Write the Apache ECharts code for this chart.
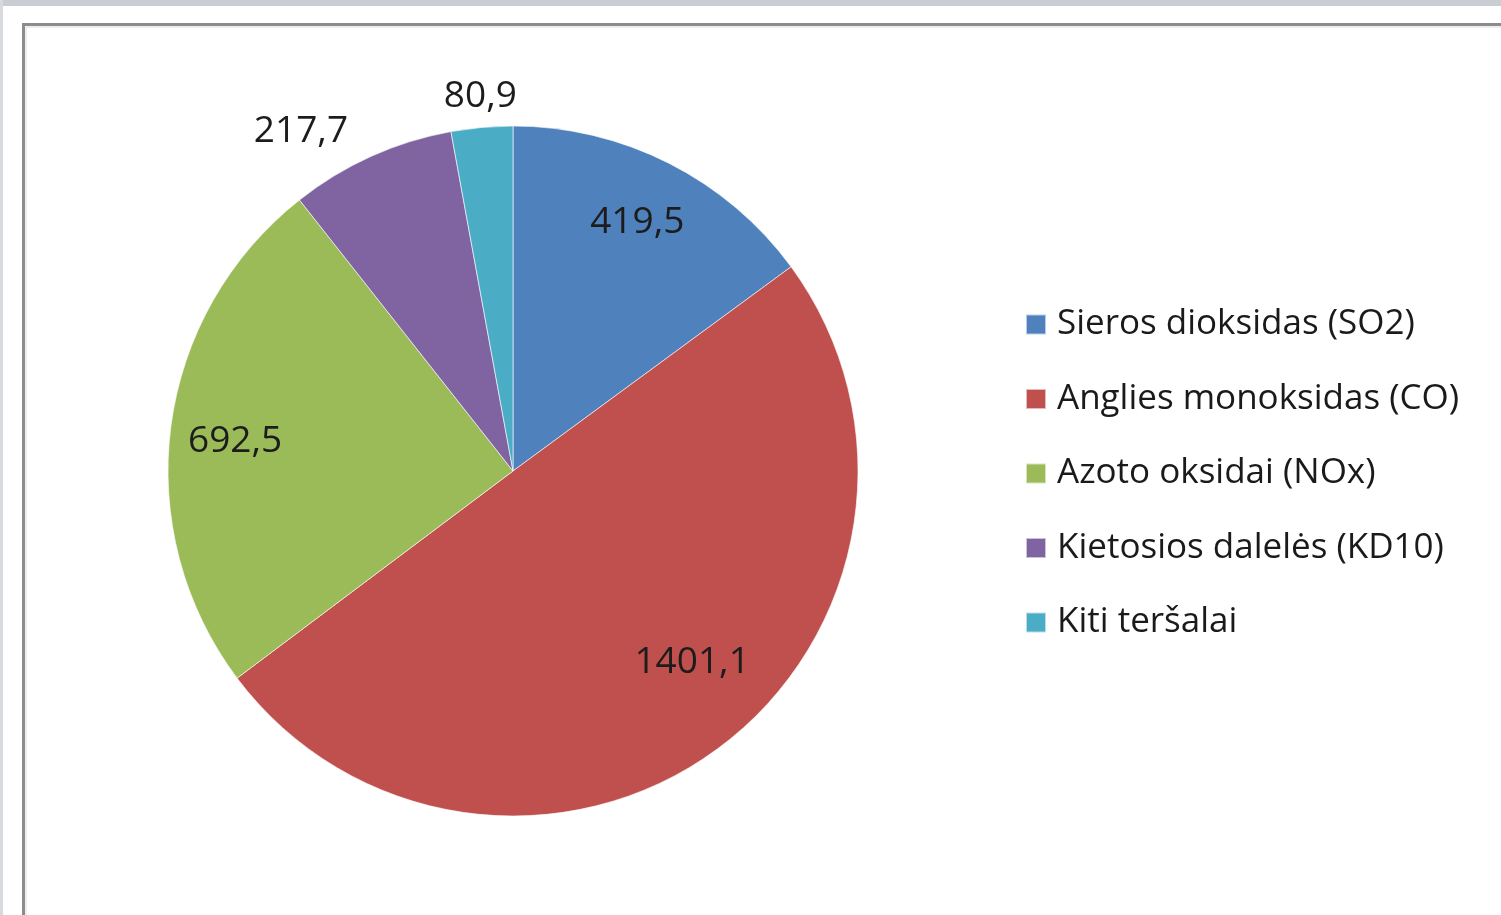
<!DOCTYPE html>
<html>
<head>
<meta charset="utf-8">
<script src="https://cdn.jsdelivr.net/npm/echarts@6/dist/echarts.min.js"></script>
<style>
  html, body { margin: 0; padding: 0; background: #ffffff; }
  #chart { width: 1501px; height: 915px; }
</style>
</head>
<body>
<div id="chart"></div>
<script>
// ---- data ----
const categories = [
  'Sieros dioksidas (SO2)',
  'Anglies monoksidas (CO)',
  'Azoto oksidai (NOx)',
  'Kietosios dalelės (KD10)',
  'Kiti teršalai'
];
const values = [419.5, 1401.1, 692.5, 217.7, 80.9];
const valueLabels = ['419,5', '1401,1', '692,5', '217,7', '80,9'];

// ---- style ----
const colors = ['#4F81BD', '#C0504D', '#9BBB59', '#8064A2', '#4BACC6'];
const CX = 513, CY = 471, R = 345;
// label placement (radius factor, angle offset in degrees) - style only
const labelRadius = [0.806, 0.76, 0.81, 1.16, 1.09];
const labelAngleOffset = [-0.3, -6.5, -1.4, -7.7, 0.2];
const FONT = '"Open Sans", "Noto Sans", sans-serif';

const total = values.reduce((a, b) => a + b, 0);
function midAngle(i) {
  let s = 0;
  for (let k = 0; k < i; k++) s += values[k];
  return ((s + values[i] / 2) / total) * 360;
}

const chart = echarts.init(document.getElementById('chart'), null, { renderer: 'canvas' });

chart.setOption({
  backgroundColor: '#ffffff',
  animation: false,
  color: colors,
  graphic: [
    { type: 'rect', shape: { x: 0, y: 0, width: 1501, height: 6 }, style: { fill: '#c9ced4' }, silent: true, z: 0 },
    { type: 'rect', shape: { x: 0, y: 0, width: 3, height: 915 }, style: { fill: '#d6dadf' }, silent: true, z: 0 },
    { type: 'rect', shape: { x: 23.5, y: 24.5, width: 1520, height: 930 }, style: { fill: 'none', stroke: '#8c8c8c', lineWidth: 3 }, silent: true, z: 0 },
    { type: 'rect', shape: { x: 26, y: 27, width: 1520, height: 930 }, style: { fill: 'none', stroke: '#dcdcdc', lineWidth: 1 }, silent: true, z: 0 }
  ],
  legend: {
    orient: 'vertical',
    left: 1020,
    top: 302,
    itemWidth: 20,
    itemHeight: 20,
    itemGap: 39.5,
    icon: 'rect',
    data: categories,
    textStyle: {
      fontFamily: FONT,
      fontSize: 35,
      color: '#1a1a1a',
      padding: [0, 0, 0, 6]
    }
  },
  series: [{
    type: 'pie',
    center: [CX, CY],
    radius: [0, R],
    startAngle: 90,
    clockwise: true,
    avoidLabelOverlap: false,
    itemStyle: { borderColor: 'rgba(255,255,255,0.6)', borderWidth: 1 },
    label: {
      show: true,
      position: 'inside',
      fontFamily: FONT,
      fontSize: 37,
      color: '#1c1c1c',
      formatter: p => valueLabels[p.dataIndex]
    },
    labelLine: { show: false },
    labelLayout: function (p) {
      const i = p.dataIndex;
      const a = (midAngle(i) + labelAngleOffset[i]) * Math.PI / 180;
      const rr = labelRadius[i] * R;
      return {
        x: CX + rr * Math.sin(a),
        y: CY - rr * Math.cos(a),
        align: 'center',
        verticalAlign: 'middle'
      };
    },
    emphasis: { disabled: true },
    data: categories.map((c, i) => ({ name: c, value: values[i] }))
  }]
});
</script>
</body>
</html>
